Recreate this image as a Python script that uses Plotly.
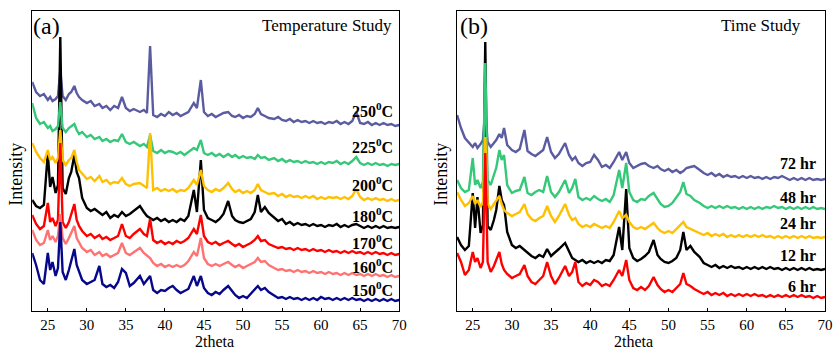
import plotly.graph_objects as go

# 2theta grid shared by all patterns
X = [23, 23.5, 24, 24.5, 25, 25.3, 25.6, 26, 26.3, 26.6, 26.9, 27.3, 27.7, 28, 28.4, 28.7, 29, 29.4, 30, 30.5,
     31, 31.6, 32, 32.5, 33, 33.5, 34, 34.5, 35, 35.5, 36, 36.8, 37.3, 37.7, 38.1, 38.5, 39, 39.5, 40, 40.5,
     41, 41.5, 42, 42.5, 43, 43.7, 44.1, 44.6, 45, 45.5, 46, 46.5, 47, 47.5, 48.1, 48.6, 49, 49.5, 50, 50.5,
     51, 51.5, 51.9, 52.3, 52.8, 53.3, 54, 54.5, 55, 55.5, 56, 56.5, 57, 57.5, 58, 58.5, 59, 59.5, 60, 60.5,
     61, 61.5, 62, 62.5, 63, 63.5, 64, 64.5, 65, 65.5, 66, 66.5, 67, 67.5, 68, 68.5, 69, 69.5, 70]

# ---- Temperature study (a), offset intensities (a.u.) ----
T250 = [229, 219, 215, 217, 211, 214, 210, 212, 215, 241, 215, 211, 217, 219, 225, 218, 214, 211, 208, 210,
        205, 207, 203, 205, 201, 205, 203, 214, 203, 200, 202, 199, 201, 198, 265, 196, 194, 197, 195, 199,
        196, 198, 195, 197, 199, 208, 203, 231, 199, 195, 197, 194, 196, 198, 199, 195, 194, 196, 193, 195,
        194, 197, 203, 197, 195, 193, 192, 194, 191, 190, 192, 189, 191, 189, 190, 188, 190, 188, 189, 187,
        189, 188, 190, 187, 189, 187, 190, 199, 188, 187, 189, 186, 188, 186, 188, 186, 187, 185, 186]
T225 = [208, 193, 187, 189, 183, 185, 180, 182, 185, 209, 183, 179, 183, 185, 187, 181, 177, 179, 174, 176,
        172, 174, 170, 172, 169, 171, 170, 177, 169, 167, 169, 165, 167, 164, 176, 160, 158, 161, 158, 160,
        159, 157, 159, 156, 159, 163, 161, 171, 158, 156, 158, 155, 157, 154, 157, 154, 156, 153, 155, 153,
        154, 152, 156, 153, 154, 151, 153, 150, 152, 149, 151, 149, 150, 148, 150, 148, 149, 147, 149, 147,
        149, 148, 150, 147, 149, 147, 150, 154, 148, 146, 148, 146, 148, 146, 147, 145, 147, 146, 147]
T200 = [168, 159, 153, 149, 161, 151, 154, 148, 153, 181, 151, 146, 151, 153, 161, 149, 141, 137, 132, 134,
        130, 135, 129, 131, 127, 129, 128, 133, 127, 125, 127, 128, 125, 123, 178, 121, 123, 120, 122, 120,
        122, 119, 121, 120, 123, 131, 126, 141, 125, 121, 119, 122, 120, 123, 128, 122, 119, 121, 118, 120,
        118, 121, 127, 121, 119, 117, 118, 115, 117, 114, 116, 114, 115, 113, 115, 113, 115, 112, 114, 112,
        114, 113, 114, 112, 114, 112, 115, 122, 114, 111, 113, 111, 113, 111, 112, 110, 112, 110, 111]
T180 = [111, 105, 103, 106, 158, 124, 134, 118, 126, 274, 123, 117, 133, 139, 156, 139, 133, 113, 103, 100,
        102, 98, 96, 99, 93, 96, 94, 99, 95, 97, 100, 105, 99, 95, 93, 91, 93, 90, 92, 89,
        91, 89, 92, 90, 95, 121, 99, 151, 101, 93, 91, 89, 92, 97, 110, 95, 91, 89, 88, 90,
        92, 99, 116, 99, 104, 98, 93, 90, 92, 87, 89, 86, 88, 86, 87, 85, 87, 85, 86, 84,
        86, 85, 87, 84, 86, 84, 86, 87, 85, 83, 85, 83, 85, 83, 85, 83, 84, 83, 84]
T170 = [96, 87, 82, 85, 108, 89, 93, 85, 91, 168, 89, 83, 89, 96, 107, 91, 85, 80, 75, 77,
        73, 76, 72, 74, 71, 73, 75, 87, 75, 73, 77, 82, 77, 75, 92, 71, 68, 70, 67, 69,
        67, 70, 68, 70, 73, 82, 77, 96, 75, 69, 67, 69, 66, 68, 70, 67, 65, 67, 64, 66,
        68, 71, 75, 70, 71, 67, 65, 63, 64, 62, 63, 61, 63, 61, 62, 60, 62, 60, 61, 59,
        61, 59, 60, 58, 60, 58, 60, 58, 59, 57, 59, 57, 59, 57, 58, 56, 58, 56, 57]
T160 = [81, 71, 66, 68, 81, 71, 75, 69, 75, 97, 73, 67, 73, 79, 85, 73, 68, 63, 59, 61,
        56, 59, 55, 57, 54, 56, 58, 68, 58, 56, 59, 63, 58, 55, 53, 48, 45, 47, 44, 46,
        44, 46, 44, 46, 50, 59, 55, 73, 53, 47, 45, 47, 45, 47, 49, 46, 44, 46, 43, 45,
        47, 49, 53, 49, 50, 46, 43, 41, 42, 40, 41, 39, 41, 39, 40, 38, 40, 38, 39, 37,
        39, 37, 38, 36, 38, 36, 38, 36, 37, 35, 37, 35, 37, 35, 36, 34, 36, 34, 35]
T150 = [58, 46, 31, 27, 58, 41, 49, 35, 43, 89, 39, 31, 41, 49, 62, 46, 39, 31, 27, 29,
        31, 45, 27, 24, 26, 23, 29, 42, 38, 25, 28, 35, 27, 31, 35, 21, 18, 21, 20, 23,
        25, 21, 18, 20, 22, 35, 25, 35, 23, 18, 16, 19, 17, 21, 25, 20, 16, 13, 15, 13,
        17, 21, 25, 21, 23, 19, 15, 13, 14, 12, 14, 12, 13, 11, 13, 11, 13, 11, 14, 12,
        13, 11, 13, 11, 13, 11, 13, 11, 12, 10, 12, 10, 12, 10, 12, 10, 12, 10, 11]

# ---- Time study (b) ----
H72 = [196, 183, 173, 169, 164, 168, 163, 167, 171, 201, 169, 164, 168, 171, 177, 173, 183, 166, 161, 159,
       162, 181, 160, 157, 155, 158, 161, 174, 159, 153, 157, 168, 156, 151, 154, 148, 145, 148, 149, 156,
       151, 144, 146, 143, 149, 159, 151, 159, 148, 143, 145, 147, 148, 145, 143, 145, 142, 140, 142, 139,
       141, 138, 140, 143, 144, 145, 141, 138, 136, 138, 135, 137, 134, 136, 134, 135, 133, 135, 133, 135,
       133, 134, 132, 134, 132, 134, 133, 135, 133, 131, 133, 131, 133, 131, 133, 131, 132, 131, 132]
H48 = [131, 123, 119, 121, 153, 126, 131, 123, 129, 248, 131, 126, 136, 143, 161, 151, 156, 126, 118, 120,
       121, 134, 118, 116, 119, 121, 119, 135, 119, 114, 119, 131, 118, 123, 132, 114, 111, 113, 111, 115,
       112, 110, 112, 109, 116, 141, 123, 148, 119, 111, 109, 112, 111, 115, 118, 112, 107, 104, 105, 108,
       113, 119, 129, 117, 115, 111, 108, 105, 103, 105, 103, 105, 103, 105, 103, 104, 102, 104, 102, 104,
       102, 104, 102, 104, 103, 105, 103, 104, 102, 104, 102, 104, 102, 104, 102, 104, 102, 103, 102]
H24 = [119, 111, 105, 108, 115, 107, 111, 104, 109, 174, 107, 102, 107, 111, 115, 107, 101, 98, 95, 97,
       99, 107, 97, 92, 90, 93, 95, 105, 95, 89, 95, 107, 96, 91, 93, 87, 84, 86, 84, 87,
       85, 83, 85, 83, 89, 100, 93, 96, 89, 84, 82, 84, 82, 85, 88, 83, 80, 78, 80, 78,
       82, 85, 89, 84, 82, 80, 78, 76, 78, 75, 77, 75, 77, 74, 76, 74, 76, 74, 76, 74,
       76, 74, 76, 74, 75, 73, 75, 73, 75, 73, 75, 73, 75, 73, 75, 73, 74, 73, 74]
H12 = [74, 66, 61, 65, 118, 83, 114, 78, 86, 269, 85, 81, 91, 101, 125, 111, 106, 79, 66, 63,
       65, 61, 58, 55, 53, 56, 54, 62, 55, 59, 62, 68, 59, 53, 51, 49, 51, 48, 50, 48,
       50, 48, 51, 50, 56, 84, 61, 122, 63, 53, 50, 52, 55, 59, 71, 56, 52, 49, 48, 50,
       53, 61, 79, 61, 65, 59, 54, 48, 46, 44, 46, 43, 45, 43, 45, 43, 44, 42, 44, 42,
       44, 42, 44, 42, 44, 42, 43, 41, 43, 41, 43, 41, 43, 41, 43, 41, 42, 41, 42]
H6 = [58, 49, 36, 41, 59, 49, 53, 43, 49, 158, 49, 39, 45, 51, 59, 47, 41, 37, 33, 35,
      37, 46, 35, 29, 27, 31, 35, 49, 35, 27, 33, 45, 35, 39, 49, 29, 25, 28, 26, 31,
      29, 25, 27, 25, 31, 41, 35, 51, 31, 23, 21, 24, 21, 25, 34, 26, 22, 19, 21, 19,
      23, 27, 38, 27, 25, 22, 19, 17, 19, 16, 18, 16, 18, 15, 17, 15, 17, 15, 17, 15,
      17, 15, 16, 14, 16, 14, 16, 14, 16, 14, 16, 14, 16, 14, 15, 13, 15, 13, 14]

TEMP_SERIES = [("250", T250, "#5b5ba2"), ("180", T180, "#000000"), ("225", T225, "#35c878"),
               ("200", T200, "#ffc000"), ("170", T170, "#ff0000"), ("160", T160, "#ff7272"),
               ("150", T150, "#07078c")]
TEMP_LABELS = ["250", "225", "200", "180", "170", "160", "150"]
TEMP_LABEL_Y = [110, 146, 184, 215, 242, 266, 289]

TIME_SERIES = [("72 hr", H72, "#5b5ba2"), ("12 hr", H12, "#000000"), ("48 hr", H48, "#35c878"),
               ("24 hr", H24, "#ffc000"), ("6 hr", H6, "#ff0000")]
TIME_LABELS = ["72 hr", "48 hr", "24 hr", "12 hr", "6 hr"]
TIME_LABEL_Y = [164, 197, 223, 255, 286]

W, H = 837, 352
FONT = "Liberation Serif, Times New Roman, serif"

fig = go.Figure()
for name, ys, col in TEMP_SERIES:
    fig.add_trace(go.Scatter(x=X, y=ys, mode="lines", line=dict(color=col, width=2.4),
                             xaxis="x", yaxis="y", showlegend=False, name=name))
for name, ys, col in TIME_SERIES:
    fig.add_trace(go.Scatter(x=X, y=ys, mode="lines", line=dict(color=col, width=2.4),
                             xaxis="x2", yaxis="y2", showlegend=False, name=name))

def px(v):
    return v / W

def py(v):
    return 1 - v / H

ax_common = dict(range=[23, 70], tick0=25, dtick=5, showgrid=False, zeroline=False,
                 showline=True, mirror=True, linecolor="black", linewidth=1,
                 ticks="inside", ticklen=3, tickcolor="black",
                 tickfont=dict(family=FONT, size=15, color="black"))
ay_common = dict(range=[0, 300], showgrid=False, zeroline=False, showline=True, mirror=True,
                 linecolor="black", linewidth=1, showticklabels=False, ticks="")

ydom = [py(311), py(11)]
fig.update_layout(
    width=W, height=H, margin=dict(l=0, r=0, t=0, b=0),
    paper_bgcolor="white", plot_bgcolor="white",
    font=dict(family=FONT, size=16, color="black"),
    xaxis=dict(domain=[px(32.5), px(403)], anchor="y", **ax_common),
    yaxis=dict(domain=ydom, anchor="x", **ay_common),
    xaxis2=dict(domain=[px(461.5), px(833)], anchor="y2", **ax_common),
    yaxis2=dict(domain=ydom, anchor="x2", **ay_common),
)

ann = []
def add(text, x, y, size=16, xanchor="center", angle=0, yanchor="middle"):
    ann.append(dict(text=text, x=px(x), y=py(y), xref="paper", yref="paper", showarrow=False,
                    xanchor=xanchor, yanchor=yanchor, textangle=angle,
                    font=dict(family=FONT, size=size, color="black")))

add("(a)", 47, 26, size=24)
add("(b)", 479, 26, size=24)
add("Temperature Study", 398, 26, size=17, xanchor="right")
add("Time Study", 811, 26, size=17, xanchor="right")
add("Intensity", 16, 174, size=18, angle=-90)
add("Intensity", 445, 174, size=18, angle=-90)
add("2theta", 217, 352, size=16, yanchor="bottom")
add("2theta", 640, 352, size=16, yanchor="bottom")
for lab, yv in zip(TEMP_LABELS, TEMP_LABEL_Y):
    add("<b>" + lab + "<sup>0</sup>C</b>", 399, yv, size=16, xanchor="right")
for lab, yv in zip(TIME_LABELS, TIME_LABEL_Y):
    add("<b>" + lab + "</b>", 826, yv, size=16, xanchor="right")
fig.update_layout(annotations=ann)

fig.write_html("out.html", config={"displayModeBar": False},
               post_script="document.body.style.margin='0px';")
